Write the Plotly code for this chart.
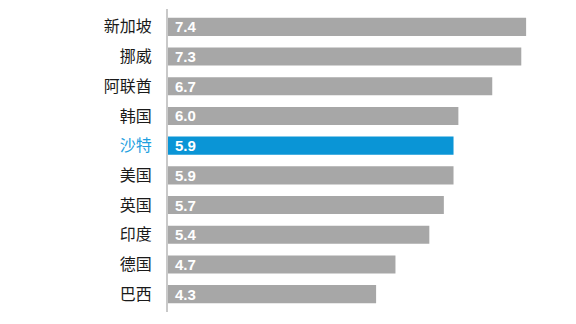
import plotly.graph_objects as go

countries = ["新加坡", "挪威", "阿联酋", "韩国", "沙特", "美国", "英国", "印度", "德国", "巴西"]
values = [7.4, 7.3, 6.7, 6.0, 5.9, 5.9, 5.7, 5.4, 4.7, 4.3]
highlight = "沙特"

GRAY = "#a7a7a7"
BLUE_BAR = "#0a95d6"
BLUE_TEXT = "#1e9fdf"

bar_colors = [BLUE_BAR if c == highlight else GRAY for c in countries]
tick_text = [
    f"<span style='color:{BLUE_TEXT}'>{c}</span>" if c == highlight else c
    for c in countries
]

fig = go.Figure(
    go.Bar(
        x=values,
        y=countries,
        orientation="h",
        marker=dict(color=bar_colors, line=dict(width=0)),
        hoverinfo="skip",
    )
)

# value labels at the base of each bar
for c, v in zip(countries, values):
    fig.add_annotation(
        x=0, y=c, xref="x", yref="y",
        text=f"{v:.1f}",
        showarrow=False,
        xanchor="left", yanchor="middle",
        xshift=5, yshift=0,
        font=dict(family="Liberation Sans, Arial, sans-serif", size=15,
                  color="white", weight="bold"),
    )

fig.update_layout(
    width=576,
    height=324,
    margin=dict(l=168, r=16, t=9, b=12),
    paper_bgcolor="white",
    plot_bgcolor="white",
    bargap=0.39,
    showlegend=False,
    xaxis=dict(range=[0, 8.1], visible=False, fixedrange=True),
    yaxis=dict(
        categoryorder="array",
        categoryarray=countries,
        range=[9.6, -0.6],
        tickmode="array",
        tickvals=countries,
        ticktext=tick_text,
        ticklabelstandoff=11,
        tickfont=dict(family="Noto Sans CJK SC", size=16, color="#1a1a1a"),
        showline=True,
        linecolor="#c9c9c9",
        linewidth=2,
        showgrid=False,
        zeroline=False,
        ticks="",
        fixedrange=True,
    ),
)

fig.write_html("out.html")
